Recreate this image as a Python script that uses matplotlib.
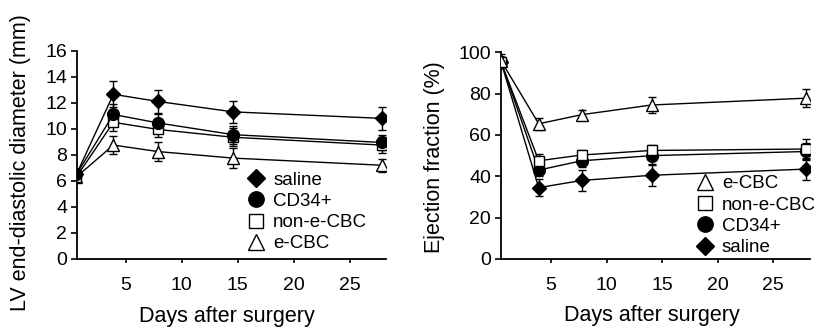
import matplotlib
matplotlib.use("Agg")
import matplotlib.pyplot as plt
from matplotlib.lines import Line2D

plt.rcParams['font.family'] = ['Liberation Sans', 'DejaVu Sans']

# LV end-diastolic diameter (mm)
days_lv = [0.6, 3.9, 7.9, 14.6, 27.9]
lv_saline = [6.5, 12.65, 12.1, 11.3, 10.8]
lv_saline_err = [0.2, 1.0, 0.9, 0.85, 0.9]
lv_cd34 = [6.5, 11.1, 10.45, 9.55, 8.95]
lv_cd34_err = [0.2, 0.8, 0.7, 0.7, 0.6]
lv_nonecbc = [6.3, 10.5, 9.95, 9.35, 8.75]
lv_nonecbc_err = [0.2, 0.7, 0.6, 0.7, 0.6]
lv_ecbc = [6.3, 8.75, 8.25, 7.75, 7.2]
lv_ecbc_err = [0.2, 0.7, 0.7, 0.75, 0.5]

# Ejection fraction (%)
days_ef = [0.5, 3.9, 7.75, 14.05, 27.95]
ef_ecbc = [96, 65.4, 69.8, 74.5, 77.8]
ef_ecbc_err = [3, 3, 2.5, 4, 4.5]
ef_nonecbc = [95.5, 47.5, 50.3, 52.5, 53.2]
ef_nonecbc_err = [2, 3.5, 2.5, 2.5, 5]
ef_cd34 = [95.5, 43, 47.5, 50, 52]
ef_cd34_err = [2, 3, 3, 4, 4]
ef_saline = [95.5, 34.5, 38, 40.5, 43.5]
ef_saline_err = [2, 4, 5, 5, 5.5]

styles = {
    "saline": dict(marker="D", mfc="black", ms=7),
    "CD34+": dict(marker="o", mfc="black", ms=8.5),
    "non-e-CBC": dict(marker="s", mfc="white", ms=7.5),
    "e-CBC": dict(marker="^", mfc="white", ms=8.5),
}

fig = plt.figure(figsize=(8.18, 3.29), dpi=100)
ax1 = fig.add_axes([0.0941, 0.2128, 0.3778, 0.6331])
ax2 = fig.add_axes([0.6121, 0.2128, 0.3781, 0.6283])


def draw(ax, x, series):
    for name, y, err in series:
        st = styles[name]
        ax.errorbar(x, y, yerr=err, color="black", lw=1.0, elinewidth=1.0,
                    capsize=3, capthick=1.0, marker=st["marker"], ms=st["ms"],
                    mfc=st["mfc"], mec="black", mew=1.0, zorder=3)


draw(ax1, days_lv, [("e-CBC", lv_ecbc, lv_ecbc_err),
                    ("non-e-CBC", lv_nonecbc, lv_nonecbc_err),
                    ("CD34+", lv_cd34, lv_cd34_err),
                    ("saline", lv_saline, lv_saline_err)])
draw(ax2, days_ef, [("saline", ef_saline, ef_saline_err),
                    ("CD34+", ef_cd34, ef_cd34_err),
                    ("non-e-CBC", ef_nonecbc, ef_nonecbc_err),
                    ("e-CBC", ef_ecbc, ef_ecbc_err)])

ax1.set_xlim(0.65, 28.25)
ax1.set_ylim(0, 16)
ax1.set_yticks(range(0, 17, 2))
ax2.set_xlim(0.48, 28.3)
ax2.set_ylim(0, 100)
ax2.set_yticks(range(0, 101, 20))

for ax in (ax1, ax2):
    ax.set_xticks([5, 10, 15, 20, 25])
    for s in ("top", "right"):
        ax.spines[s].set_visible(False)
    ax.spines["left"].set_linewidth(1.3)
    ax.spines["bottom"].set_linewidth(1.3)
    ax.tick_params(axis="x", length=3, width=1.2, pad=10, labelsize=14)
    ax.tick_params(axis="y", length=4, width=1.2, pad=3, labelsize=14)
    ax.set_xlabel("Days after surgery", fontsize=15.5)

ax1.set_ylabel("LV end-diastolic diameter (mm)", fontsize=15.5)
ax2.set_ylabel("Ejection fraction (%)", fontsize=15.5)
ax1.yaxis.set_label_coords(-0.15, 0.465)
ax2.yaxis.set_label_coords(-0.18, 0.495)
ax1.xaxis.set_label_coords(0.484, -0.225)
ax2.xaxis.set_label_coords(0.49, -0.225)


def legend(ax, names, anchor):
    handles = []
    for n in names:
        st = styles[n]
        handles.append(Line2D([], [], ls="none", marker=st["marker"],
                              ms=st["ms"] * 1.3, mfc=st["mfc"], mec="black",
                              mew=1.0, color="black", label=n))
    ax.legend(handles=handles, loc="upper left", bbox_to_anchor=anchor,
              frameon=False, fontsize=13.5, handlelength=1.0,
              handletextpad=0.4, labelspacing=0.22, borderpad=0,
              borderaxespad=0)


legend(ax1, ["saline", "CD34+", "non-e-CBC", "e-CBC"], (0.55, 0.42))
legend(ax2, ["e-CBC", "non-e-CBC", "CD34+", "saline"], (0.63, 0.405))

fig.savefig("out.png", dpi=100)
